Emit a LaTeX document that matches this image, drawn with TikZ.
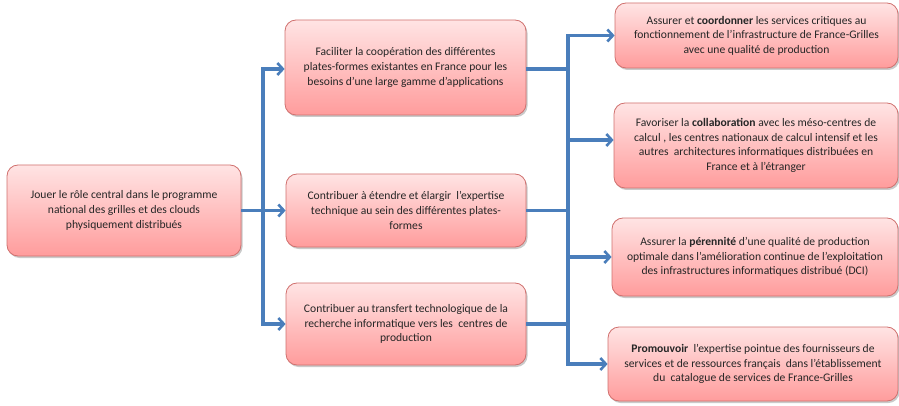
\documentclass[tikz,border=0pt]{standalone}
\usepackage{fontspec}
\setmainfont{Carlito}
\usetikzlibrary{arrows.meta,shadows}
\definecolor{linkblue}{HTML}{4A7EBB}
\definecolor{boxborder}{HTML}{D0706E}
\definecolor{boxtop}{HTML}{FFE4E4}
\definecolor{boxbot}{HTML}{FF9C9C}
\tikzset{
  goalbox/.style={draw=boxborder, line width=0.8pt, rounded corners=11pt,
    top color=boxtop, bottom color=boxbot, align=center,
    font=\fontsize{11.6}{14.6}\selectfont, text=black!85, inner sep=2pt,
    drop shadow={shadow xshift=1.5pt, shadow yshift=-2pt, opacity=0.35, fill=black!60}},
  conn/.style={draw=linkblue, line width=3.2pt},
  arr/.style={conn, -{Straight Barb[length=5.5pt,width=12pt,line width=2.6pt]}}
}
\begin{document}
\begin{tikzpicture}[x=1pt,y=-1pt]
\useasboundingbox (0,0) rectangle (899,406);
\node[goalbox, minimum width=234pt, minimum height=91pt] (L) at (124,210.5)
  {Jouer le rôle central dans le programme\\national des grilles et des clouds\\physiquement distribués};
\node[goalbox, minimum width=241pt, minimum height=95pt] (M1) at (405.5,67.5)
  {Faciliter la coopération des différentes\\plates-formes existantes en France pour les\\besoins d’une large gamme d’applications};
\node[goalbox, minimum width=240pt, minimum height=73pt] (M2) at (406,210.5)
  {Contribuer à étendre et élargir\ \ l’expertise\\technique au sein des différentes plates-\\formes};
\node[goalbox, minimum width=240pt, minimum height=82pt] (M3) at (406,324)
  {Contribuer au transfert technologique de la\\recherche informatique vers les\ \ centres de\\production};
\node[goalbox, minimum width=283pt, minimum height=65pt] (R1) at (756.5,35.5)
  {Assurer et \textbf{coordonner} les services critiques au\\fonctionnement de l’infrastructure de France-Grilles\\avec une qualité de production};
\node[goalbox, minimum width=284pt, minimum height=85pt] (R2) at (756,145.5)
  {Favoriser la \textbf{collaboration} avec les méso-centres de\\calcul , les centres nationaux de calcul intensif et les\\autres\ \ architectures informatiques distribuées en\\France et à l’étranger};
\node[goalbox, minimum width=286pt, minimum height=78pt] (R3) at (755,257)
  {Assurer la \textbf{pérennité} d’une qualité de production\\optimale dans l’amélioration continue de l’exploitation\\des infrastructures informatiques distribué (DCI)};
\node[goalbox, minimum width=290pt, minimum height=74pt] (R4) at (753,364)
  {\textbf{Promouvoir}\ \ l’expertise pointue des fournisseurs de\\services et de ressources français\ \ dans l’établissement\\du\ \ catalogue de services de France-Grilles};
\coordinate (jl) at (263,0);
\coordinate (jr) at (568,0);
% left fan-out
\draw[arr] (L.east) -- (M2.west);
\draw[arr] (jl |- L.east) |- ([yshift=-1.5pt]M1.west);
\draw[arr] (jl |- L.east) |- (M3.west);
% right merge
\draw[conn] ([yshift=-1.5pt]M1.east) -- ([yshift=-1.5pt]M1.east -| jr);
\draw[conn] (M2.east) -- (M2.east -| jr);
\draw[conn] (M3.east) -- (M3.east -| jr);
\draw[conn] (jr |- R1.west) -- (jr |- R4.west);
\draw[arr] ([yshift=-1.5pt]jr |- M1.east) |- (R1.west);
\draw[arr] ([yshift=-1.5pt]jr |- M1.east) |- ([yshift=5.5pt]R2.west);
\draw[arr] (jr |- M2.east) |- (R3.west);
\draw[arr] (jr |- M3.east) |- (R4.west);
\end{tikzpicture}
\end{document}
